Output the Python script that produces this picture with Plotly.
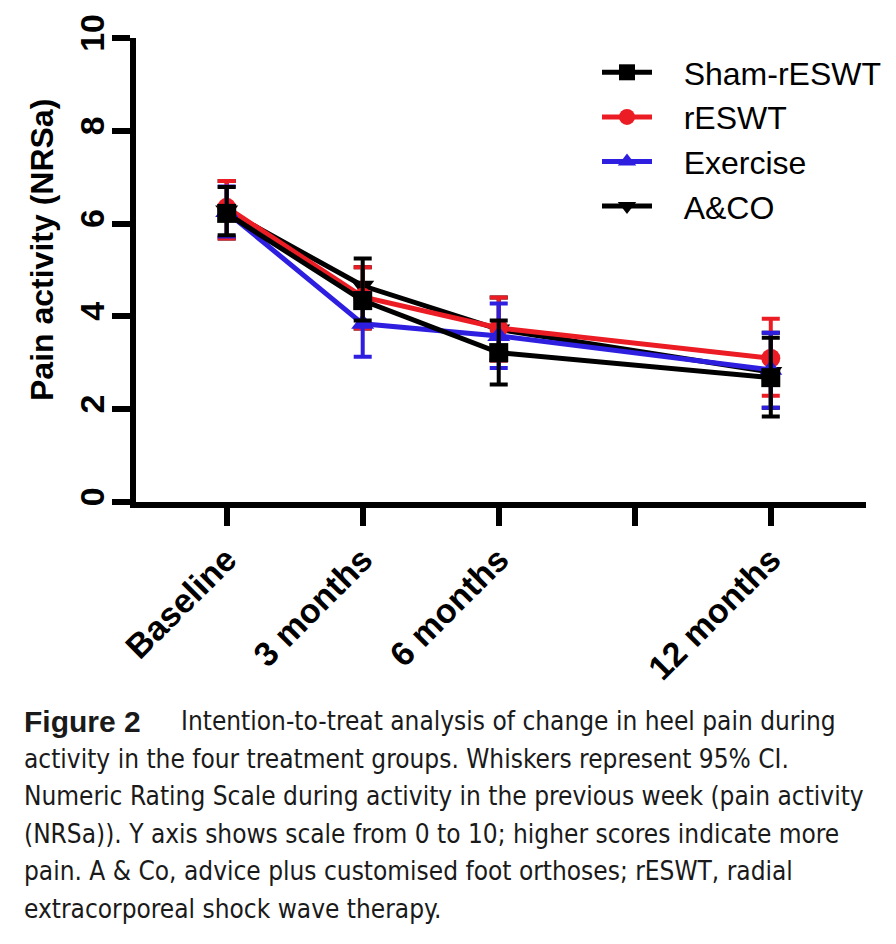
import plotly.graph_objects as go

months = [0, 3, 6, 12]
tick_vals = [0, 3, 6, 9, 12]
tick_text = ["Baseline", "3 months", "6 months", "", "12 months"]

sham = [6.22, 4.34, 3.22, 2.68]
sham_lo = [5.75, 3.91, 2.53, 1.84]
sham_hi = [6.79, 5.25, 3.91, 3.54]

reswt = [6.35, 4.42, 3.75, 3.10]
reswt_lo = [5.68, 3.74, 3.05, 2.29]
reswt_hi = [6.92, 5.06, 4.41, 3.95]

exercise = [6.25, 3.84, 3.58, 2.85]
exercise_lo = [5.72, 3.13, 2.89, 2.03]
exercise_hi = [6.80, 4.50, 4.28, 3.65]

aco = [6.28, 4.66, 3.72, 2.80]
aco_lo = [5.68, 3.74, 3.05, 2.03]
aco_hi = [6.92, 5.06, 4.41, 3.65]

caption_lines = [
    "Intention-to-treat analysis of change in heel pain during",
    "activity in the four treatment groups. Whiskers represent 95% CI.",
    "Numeric Rating Scale during activity in the previous week (pain activity",
    "(NRSa)). Y axis shows scale from 0 to 10; higher scores indicate more",
    "pain. A & Co, advice plus customised foot orthoses; rESWT, radial",
    "extracorporeal shock wave therapy.",
]

RED = "#ec1c24"
BLUE = "#2d1ee0"
BLACK = "#000000"

W, H = 896, 944
L, R, T, B = 136, 30, 38, 442
PW, PH = W - L - R, H - T - B


def px_x(p):
    return (p - L) / PW


def px_y(p):
    return (H - B - p) / PH


PAD = "\u00a0\u00a0\u00a0"


def trace(name, y, lo, hi, color, symbol, size, rank):
    return go.Scatter(
        x=months, y=y, name=PAD + name, mode="lines+markers",
        line=dict(color=color, width=5),
        marker=dict(color=color, symbol=symbol, size=size, line=dict(width=0)),
        error_y=dict(type="data", symmetric=False,
                     array=[h - v for h, v in zip(hi, y)],
                     arrayminus=[v - l for v, l in zip(y, lo)],
                     color=color, thickness=4, width=9),
        legendrank=rank,
    )


fig = go.Figure()
fig.add_trace(trace("A&CO", aco, aco_lo, aco_hi, BLACK, "triangle-down", 20, 4))
fig.add_trace(trace("rESWT", reswt, reswt_lo, reswt_hi, RED, "circle", 19, 2))
fig.add_trace(trace("Exercise", exercise, exercise_lo, exercise_hi, BLUE, "triangle-up", 20, 3))
fig.add_trace(trace("Sham-rESWT", sham, sham_lo, sham_hi, BLACK, "square", 19, 1))

fig.update_layout(
    width=W, height=H,
    margin=dict(l=L, r=R, t=T, b=B, pad=0, autoexpand=False),
    paper_bgcolor="white", plot_bgcolor="white",
    showlegend=True,
    legend=dict(x=px_x(597), y=px_y(45), xanchor="left", yanchor="top",
                font=dict(family="Liberation Sans", size=32, color="black"),
                bgcolor="rgba(0,0,0,0)", itemwidth=50, tracegroupgap=0),
    xaxis=dict(range=[-2, 14.1], tickmode="array", tickvals=tick_vals, ticktext=tick_text,
               showline=True, linecolor="black", linewidth=6,
               ticks="outside", ticklen=18, tickwidth=6, tickcolor="black",
               tickangle=-45, showgrid=False, zeroline=False, automargin=False,
               tickfont=dict(family="Liberation Sans", size=34, color="black", weight="bold")),
    yaxis=dict(range=[0, 10], tickvals=[0, 2, 4, 6, 8, 10],
               showline=True, linecolor="black", linewidth=6,
               ticks="outside", ticklen=18, tickwidth=6, tickcolor="black",
               tickangle=-90, showgrid=False, zeroline=False, ticklabelstandoff=-6,
               automargin=False,
               tickfont=dict(family="Liberation Sans", size=34, color="black", weight="bold")),
)

annotations = [
    dict(text="<b>Pain activity (NRSa)</b>", xref="paper", yref="paper",
         x=px_x(42), y=px_y(250), textangle=-90, showarrow=False,
         xanchor="center", yanchor="middle",
         font=dict(family="Liberation Sans", size=32, color="black")),
    dict(text="<b>Figure 2</b>", xref="paper", yref="paper",
         x=px_x(22), y=px_y(721), showarrow=False, xanchor="left", yanchor="middle",
         font=dict(family="Liberation Sans", size=30, color="#1a1a1a")),
]
line_y = [721, 758.5, 796, 833.5, 871, 908.5]
for i, (txt, py) in enumerate(zip(caption_lines, line_y)):
    annotations.append(dict(
        text=txt, xref="paper", yref="paper",
        x=px_x(179 if i == 0 else 22), y=px_y(py), showarrow=False,
        xanchor="left", yanchor="middle",
        font=dict(family="DejaVu Sans Condensed", size=26, color="#1a1a1a")))
fig.update_layout(annotations=annotations)

fig.write_html("out.html")
